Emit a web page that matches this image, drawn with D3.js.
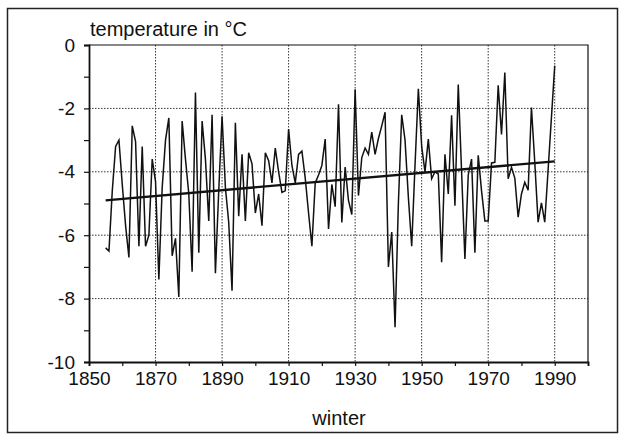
<!DOCTYPE html>
<html>
<head>
<meta charset="utf-8">
<script src="https://cdn.jsdelivr.net/npm/d3@7"></script>
<style>
  body { margin: 0; background: #fff; }
  svg { font-family: "Liberation Sans", Arial, sans-serif; }
</style>
</head>
<body>
<svg id="chart" width="625" height="440"></svg>
<script>
// winter mean temperature, one value per year from startYear
const startYear = 1855;
const temps = [
  -6.4, -6.5, -4.6, -3.2, -3.0, -4.4, -5.7, -6.7, -2.55, -3.05,
  -6.35, -3.2, -6.35, -6.0, -3.6, -4.3, -7.4, -4.5, -3.0, -2.3,
  -6.65, -6.1, -7.95, -2.4, -3.6, -4.7, -7.15, -1.5, -6.55, -2.4,
  -3.6, -5.55, -2.2, -7.2, -4.6, -2.25, -4.5, -5.6, -7.75, -2.45,
  -5.4, -3.45, -5.55, -3.4, -3.75, -5.3, -4.7, -5.7, -3.4, -3.65,
  -4.35, -3.25, -4.0, -4.65, -4.6, -2.65, -3.8, -4.35, -3.45, -3.35,
  -4.2, -5.3, -6.35, -4.35, -4.1, -3.8, -2.97, -5.8, -4.4, -5.1,
  -1.87, -5.6, -3.85, -4.9, -5.35, -1.4, -4.75, -3.55, -3.25, -3.45,
  -2.75, -3.45, -2.95, -2.55, -2.12, -7.0, -5.9, -8.9, -5.0, -2.2,
  -3.0, -4.8, -6.35, -3.8, -1.38, -3.2, -4.0, -2.97, -4.22, -4.0,
  -4.07, -6.85, -3.45, -4.7, -2.22, -5.07, -1.25, -4.0, -6.75, -4.1,
  -3.6, -6.55, -3.48, -4.6, -5.55, -5.55, -3.72, -3.7, -1.27, -2.82,
  -0.87, -4.22, -3.86, -4.2, -5.43, -4.7, -4.33, -4.58, -1.97, -3.7,
  -5.59, -4.98, -5.59, -3.95, -2.3, -0.65
];
const years = temps.map((d, i) => startYear + i);

// linear trend, end points
const trendYears = [1855, 1990];
const trendValues = [-4.9, -3.67];

const xTicks = d3.range(1850, 2001, 10);
const xLabels = [1850, 1870, 1890, 1910, 1930, 1950, 1970, 1990];
const yTicks = d3.range(-10, 1, 1);
const yLabels = [-10, -8, -6, -4, -2, 0];

const svg = d3.select('#chart');

const x = d3.scaleLinear().domain([1850, 2000]).range([89, 588]);
const y = d3.scaleLinear().domain([-10, 0]).range([362, 45]);

// outer frame
svg.append('rect')
  .attr('x', 7.5).attr('y', 8.5)
  .attr('width', 610).attr('height', 424)
  .attr('fill', 'none')
  .attr('stroke', '#222')
  .attr('stroke-width', 1.5);

// grid
const grid = svg.append('g')
  .attr('stroke', '#333')
  .attr('stroke-width', 1)
  .attr('stroke-dasharray', '1.5,1.5');

grid.selectAll('line.v')
  .data(xLabels.filter(d => d > 1850))
  .join('line')
  .attr('class', 'v')
  .attr('x1', d => x(d)).attr('x2', d => x(d))
  .attr('y1', y(0)).attr('y2', y(-10));

grid.selectAll('line.h')
  .data(yLabels.filter(d => d > -10 && d < 0))
  .join('line')
  .attr('class', 'h')
  .attr('x1', x(1850)).attr('x2', x(2000))
  .attr('y1', d => y(d)).attr('y2', d => y(d));

// top and right border of the plot
svg.append('path')
  .attr('d', `M${x(1850)},${y(0)}H${x(2000)}V${y(-10)}`)
  .attr('fill', 'none')
  .attr('stroke', '#111')
  .attr('stroke-width', 1.2);

// axes
const xAxis = svg.append('g')
  .attr('transform', `translate(0,${y(-10)})`)
  .call(d3.axisBottom(x)
    .tickValues(xTicks)
    .tickSize(4)
    .tickPadding(6)
    .tickFormat(d => xLabels.includes(d) ? d : ''));

const yAxis = svg.append('g')
  .attr('transform', `translate(${x(1850)},0)`)
  .call(d3.axisLeft(y)
    .tickValues(yTicks)
    .tickSize(5)
    .tickPadding(9)
    .tickFormat(d => yLabels.includes(d) ? d : ''));

[xAxis, yAxis].forEach(a => {
  a.select('.domain').attr('stroke', '#111').attr('stroke-width', 1.8);
  a.selectAll('.tick line').attr('stroke', '#111').attr('stroke-width', 1.2);
  a.selectAll('.tick text')
    .attr('fill', '#111')
    .style('font-size', '19px');
});
yAxis.selectAll('.tick text').text(d => yLabels.includes(d) ? String(d).replace('−', '-') : '');

// data line
const line = d3.line()
  .x((d, i) => x(years[i]))
  .y(d => y(d));

svg.append('path')
  .datum(temps)
  .attr('d', line)
  .attr('fill', 'none')
  .attr('stroke', '#111')
  .attr('stroke-width', 1.5)
  .attr('stroke-linejoin', 'miter');

// trend line
svg.append('path')
  .datum(trendValues)
  .attr('d', d3.line().x((d, i) => x(trendYears[i])).y(d => y(d)))
  .attr('fill', 'none')
  .attr('stroke', '#111')
  .attr('stroke-width', 2.3);

// titles
svg.append('text')
  .attr('x', 90).attr('y', 36)
  .attr('fill', '#111')
  .style('font-size', '20px')
  .text('temperature in °C');

svg.append('text')
  .attr('x', 339).attr('y', 425)
  .attr('text-anchor', 'middle')
  .attr('fill', '#111')
  .style('font-size', '20px')
  .text('winter');
</script>
</body>
</html>
